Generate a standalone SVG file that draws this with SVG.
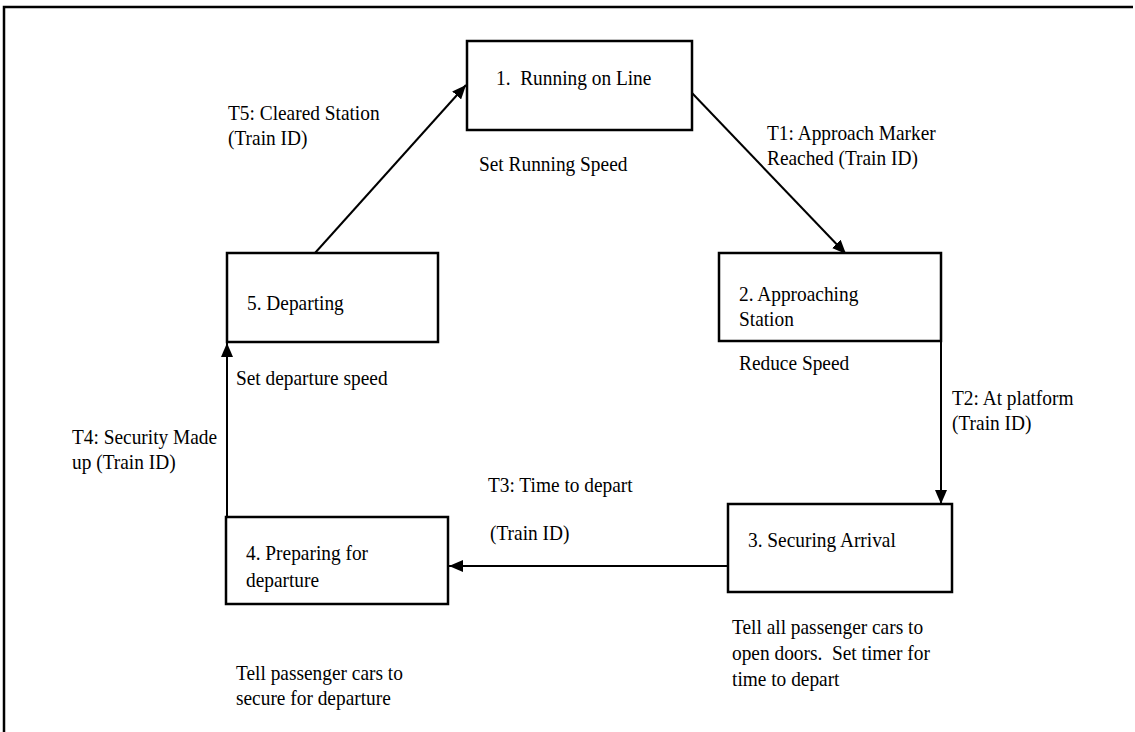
<svg xmlns="http://www.w3.org/2000/svg" width="1135" height="732" viewBox="0 0 1135 732">
<style>
.bg{fill:#fff}
.frame{fill:none;stroke:#000;stroke-width:2.5}
.box{fill:#fff;stroke:#000;stroke-width:2.5}
.conn{fill:none;stroke:#000;stroke-width:2}
text{font-family:"Liberation Serif","Times New Roman",serif;font-size:22px;fill:#000}
</style>
<defs>
<marker id="arr" markerUnits="userSpaceOnUse" markerWidth="16" markerHeight="12" refX="14" refY="6" orient="auto">
<path d="M0,0 L14,6 L0,12 Z" fill="#000"/>
</marker>
</defs>
<rect class="bg" x="0" y="0" width="1135" height="732"/>
<path class="frame" d="M4,732 L4,7 L1133,7"/>

<g id="connectors">
<line class="conn" x1="692" y1="93" x2="846" y2="254" marker-end="url(#arr)"/>
<line class="conn" x1="941" y1="341" x2="941" y2="504" marker-end="url(#arr)"/>
<line class="conn" x1="728" y1="566" x2="449" y2="566" marker-end="url(#arr)"/>
<line class="conn" x1="227" y1="517" x2="227" y2="343" marker-end="url(#arr)"/>
<line class="conn" x1="315" y1="253" x2="466" y2="85" marker-end="url(#arr)"/>
<text transform="translate(767,140) scale(0.88,1)"><tspan x="0" y="0">T1: Approach Marker</tspan><tspan x="0" dy="25">Reached (Train ID)</tspan></text>
<text transform="translate(952,405) scale(0.88,1)"><tspan x="0" y="0">T2: At platform</tspan><tspan x="0" dy="25">(Train ID)</tspan></text>
<text transform="translate(488,492) scale(0.88,1)"><tspan x="0" y="0">T3: Time to depart</tspan></text>
<text transform="translate(490,540) scale(0.88,1)"><tspan x="0" y="0">(Train ID)</tspan></text>
<text transform="translate(72,444) scale(0.88,1)"><tspan x="0" y="0">T4: Security Made</tspan><tspan x="0" dy="25">up (Train ID)</tspan></text>
<text transform="translate(228,120) scale(0.88,1)"><tspan x="0" y="0">T5: Cleared Station</tspan><tspan x="0" dy="25">(Train ID)</tspan></text>
</g>

<g id="node1">
<rect class="box" x="467" y="41" width="225" height="89"/>
<text transform="translate(496,85) scale(0.88,1)" xml:space="preserve">1.  Running on Line</text>
<text transform="translate(479,171) scale(0.88,1)">Set Running Speed</text>
</g>
<g id="node2">
<rect class="box" x="719" y="253" width="222" height="88"/>
<text transform="translate(739,301) scale(0.88,1)"><tspan x="0" y="0">2. Approaching</tspan><tspan x="0" dy="25">Station</tspan></text>
<text transform="translate(739,370) scale(0.88,1)">Reduce Speed</text>
</g>
<g id="node3">
<rect class="box" x="728" y="504" width="224" height="88"/>
<text transform="translate(748,547) scale(0.88,1)">3. Securing Arrival</text>
<text transform="translate(732,634) scale(0.88,1)" xml:space="preserve"><tspan x="0" y="0">Tell all passenger cars to</tspan><tspan x="0" dy="26">open doors.  Set timer for</tspan><tspan x="0" dy="26">time to depart</tspan></text>
</g>
<g id="node4">
<rect class="box" x="226" y="517" width="222" height="87"/>
<text transform="translate(246,560) scale(0.88,1)"><tspan x="0" y="0">4. Preparing for</tspan><tspan x="0" dy="27">departure</tspan></text>
<text transform="translate(236,680) scale(0.88,1)"><tspan x="0" y="0">Tell passenger cars to</tspan><tspan x="0" dy="25">secure for departure</tspan></text>
</g>
<g id="node5">
<rect class="box" x="227" y="253" width="211" height="89"/>
<text transform="translate(247,310) scale(0.88,1)">5. Departing</text>
<text transform="translate(236,385) scale(0.88,1)">Set departure speed</text>
</g>
</svg>
